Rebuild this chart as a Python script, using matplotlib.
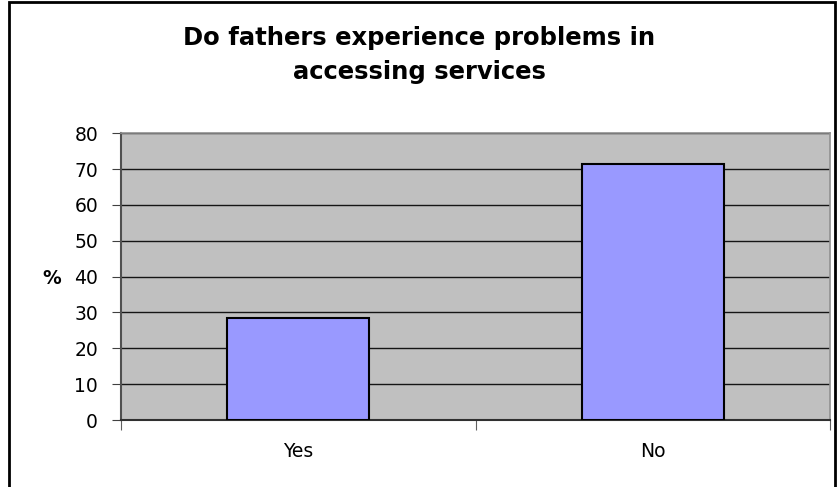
import matplotlib.pyplot as plt
from matplotlib.patches import Rectangle

# data
categories = ['Yes', 'No']
percent = [28.6, 71.4]
y_ticks = [0, 10, 20, 30, 40, 50, 60, 70, 80]

plt.rcParams['font.family'] = ['DejaVu Sans']

fig = plt.figure(figsize=(8.38, 4.87), dpi=100)
ax = fig.add_axes([121 / 838, 1 - 420 / 487, 709 / 838, 286.7 / 487])

x = list(range(len(categories)))
ax.bar(x, percent, width=0.4, color='#9999ff', edgecolor='black', linewidth=1.5, zorder=3)

ax.set_facecolor('#c0c0c0')
ax.set_xlim(-0.5, 1.5)
ax.set_ylim(0, 80)
ax.set_yticks(y_ticks)
ax.yaxis.grid(True, color='#151515', linewidth=1, zorder=1)
ax.set_axisbelow(True)

# x ticks at category borders, labels centered on bars
ax.set_xticks([-0.5, 0.5, 1.5])
ax.set_xticklabels([])
ax.set_xticks(x, minor=True)
ax.set_xticklabels(categories, minor=True, fontsize=13.5)
ax.tick_params(axis='x', which='minor', length=0, pad=16)
ax.tick_params(axis='x', which='major', length=7, color='#606060', direction='out')
ax.tick_params(axis='y', length=6.5, color='#404040', labelsize=13.5, pad=10)

for s in ['top', 'right']:
    ax.spines[s].set_color('#909090')
    ax.spines[s].set_linewidth(1.2)
ax.spines['left'].set_color('#505050')
ax.spines['left'].set_linewidth(1.5)
ax.spines['bottom'].set_color('#303030')
ax.spines['bottom'].set_linewidth(1.5)

ax.set_ylabel('%', rotation=0, fontsize=13.5, fontweight='bold')
ax.yaxis.set_label_coords((52 - 121) / 709, (420 - 278) / 286.7)
ax.yaxis.label.set_va('center')
ax.yaxis.label.set_ha('center')

fig.text(0.5, 1 - 55 / 487, 'Do fathers experience problems in\naccessing services',
         ha='center', va='center', fontsize=17.5, fontweight='bold', linespacing=1.5)

# outer chart frame
fig.patches.append(Rectangle((9 / 838, -0.05), 826 / 838, 1.05 - 2 / 487,
                             transform=fig.transFigure, fill=False,
                             edgecolor='black', linewidth=2))

fig.savefig('out.png', dpi=100)
